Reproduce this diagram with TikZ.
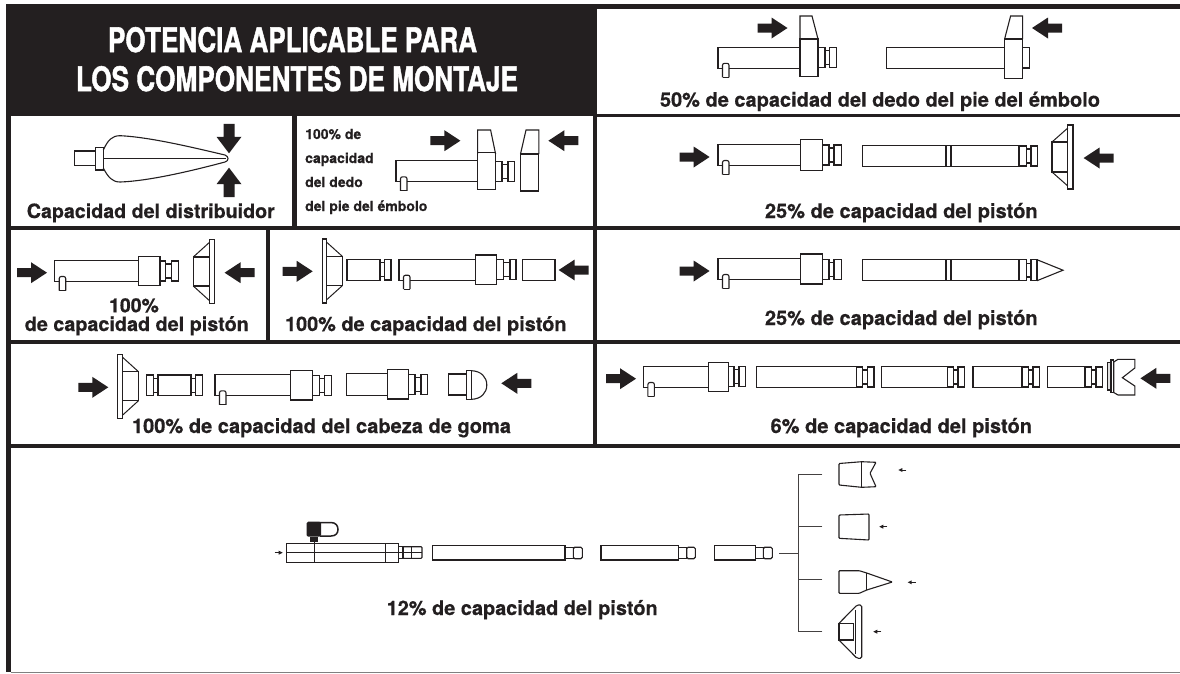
\documentclass[tikz,border=0pt]{standalone}
\usepackage{graphicx}
\usepackage{fontspec}
\setmainfont{TeX Gyre Heros}[BoldFeatures={FakeBold=0.4}]
\newfontfamily\titlefont{TeX Gyre Heros}[BoldFeatures={FakeBold=1.6}]
\definecolor{ink}{HTML}{231F20}
\tikzset{
  part/.style={draw=ink,line width=1.1pt,line join=miter},
  lab/.style={text=ink,font=\bfseries\fontsize{17.6}{20}\selectfont,anchor=base,inner sep=0pt},
  smalllab/.style={text=ink,font=\bfseries\fontsize{14}{16}\selectfont,anchor=base west,inner sep=0pt},
  titlelab/.style={text=white,font=\titlefont\bfseries\fontsize{34}{36}\selectfont,anchor=base,inner sep=0pt},
  band/.style={fill=ink,draw=none},
  branch/.style={draw=ink!85!white,line width=1pt},
}
\newcommand\ArrR[2]{\fill[ink] (#1,#2) -- (#1-16,#2-10.5) -- (#1-16,#2-4.5) -- (#1-30,#2-4.5) -- (#1-30,#2+4.5) -- (#1-16,#2+4.5) -- (#1-16,#2+10.5) -- cycle;}
\newcommand\ArrL[2]{\fill[ink] (#1,#2) -- (#1+16,#2-10.5) -- (#1+16,#2-4.5) -- (#1+30,#2-4.5) -- (#1+30,#2+4.5) -- (#1+16,#2+4.5) -- (#1+16,#2+10.5) -- cycle;}
\newcommand\ArrD[2]{\fill[ink] (#1,#2) -- (#1-12.5,#2-16.5) -- (#1-5.5,#2-16.5) -- (#1-5.5,#2-29.5) -- (#1+5.5,#2-29.5) -- (#1+5.5,#2-16.5) -- (#1+12.5,#2-16.5) -- cycle;}
\newcommand\ArrU[2]{\fill[ink] (#1,#2) -- (#1-12.5,#2+16.5) -- (#1-5.5,#2+16.5) -- (#1-5.5,#2+29.5) -- (#1+5.5,#2+29.5) -- (#1+5.5,#2+16.5) -- (#1+12.5,#2+16.5) -- cycle;}
\newcommand\TinyR[2]{\draw[ink,line width=.8pt] (#1-8,#2) -- (#1-3,#2); \fill[ink] (#1,#2) -- (#1-4,#2-2) -- (#1-4,#2+2) -- cycle;}
\newcommand\TinyL[2]{\draw[ink,line width=.8pt] (#1+8,#2) -- (#1+3,#2); \fill[ink] (#1,#2) -- (#1+4,#2-2) -- (#1+4,#2+2) -- cycle;}
% body left x, centre y, collar x1, collar x2, collar half height
\newcommand\Ram[5]{%
  \draw[part] (#3,#2-10.5) -- (#1,#2-10.5) -- (#1,#2+10.5) -- (#1+4.5,#2+10.5);
  \draw[part] (#1+11,#2+10.5) -- (#3,#2+10.5);
  \draw[part,rounded corners=2pt] (#1+4.5,#2+19.5) -- (#1+4.5,#2+5.5) -- (#1+11,#2+5.5) -- (#1+11,#2+19.5);
  \draw[part] (#1+4.5,#2+19.5) -- (#1+11,#2+19.5);
  \draw[part] (#3,#2-#5) rectangle (#4,#2+#5);}
% stud: x0 x1 x2 x3 y
\newcommand\Stud[5]{%
  \draw[part] (#1,#5-10) rectangle (#2,#5+10);
  \draw[part] (#2,#5-7) -- (#3,#5-7) (#2,#5+7) -- (#3,#5+7);
  \draw[part] (#3,#5-10) rectangle (#4,#5+10);}
\newcommand\Rod[3]{\draw[part] (#1,#3-10.5) rectangle (#2,#3+10.5);}
% plate: outer box x, box-plate x, plate outer x, y, box half, plate half
\newcommand\Plate[6]{%
  \draw[part] (#1,#4-#5) rectangle (#2,#4+#5);
  \draw[part] (#2,#4-#6) rectangle (#3,#4+#6);
  \draw[draw=ink,line width=1pt] (#1,#4-#5) -- (#2,#4-#6+3) (#1,#4+#5) -- (#2,#4+#6-3);}
\newcommand\Lab[5]{\node[lab] (#1) at (#2,#3) {\resizebox{#4pt}{!}{#5}};}
\begin{document}
\begin{tikzpicture}[x=1pt,y=-1pt]
\useasboundingbox (0,0) rectangle (1180,673);
\fill[white] (0,0) rectangle (1180,673);
% frame
\fill[band] (5.7,4) rectangle (597,116);
\fill[band] (597,4) rectangle (1180,9);
\fill[band] (5.7,4) rectangle (10.5,672);
\fill[band] (593,4) rectangle (597,447.5);
\fill[band] (597,113.5) rectangle (1180,117);
\fill[band] (5.7,226) rectangle (1180,230);
\fill[band] (5.7,340) rectangle (1180,343.5);
\fill[band] (5.7,443.5) rectangle (1180,447.5);
\fill[band] (292,116) rectangle (296.6,226);
\fill[band] (265.6,226) rectangle (270,340);
\draw[gray,line width=1pt] (10.5,672.3) -- (1180,672.3);
% title
\node[titlelab] (t1) at (292.5,52) {\resizebox{369pt}{25pt}{POTENCIA APLICABLE PARA}};
\node[titlelab] (t2) at (297,91) {\resizebox{442pt}{25pt}{LOS COMPONENTES DE MONTAJE}};

% ---- row 1 right
\ArrR{787.5}{28}
\Ram{718}{57.8}{800}{818}{18.8}
\draw[part] (800,39) -- (800,16) -- (812,16) -- (818,39);
\Stud{818}{825}{829.5}{836.5}{57.5}
\draw[part] (886.5,47.3) rectangle (1004.6,68.3);
\draw[part] (1004.6,39) rectangle (1022.6,78.3);
\draw[part] (1004.6,39) -- (1010.6,16) -- (1022.6,16) -- (1022.6,39);
\draw[part] (1022.6,47.3) rectangle (1029.5,68);
\ArrL{1032}{28}
\Lab{l50}{880}{106.7}{440}{50\% de capacidad del dedo del pie del émbolo}

% ---- row 2 left: distributor
\draw[part] (74.6,151) rectangle (95.7,165.7);
\draw[part] (95.7,147.7) rectangle (103.3,170);
\draw[part] (103.3,150) .. controls (108,140) and (112,135.7) .. (120,135.7) .. controls (150,137) and (195,148) .. (225,155) .. controls (229,156.5) and (229,161) .. (225,162) .. controls (195,170) and (150,181) .. (120,182) .. controls (112,182) and (108,177) .. (103.3,168);
\draw[part] (103.3,158.7) -- (226,158.7);
\ArrD{229}{153.3}
\ArrU{229}{167.7}
\Lab{ldist}{150.8}{218}{248}{Capacidad del distribuidor}

% ---- row 2 middle
\node[smalllab] (m1) at (305,139) {100\% de};
\node[smalllab] (m2) at (305,163) {capacidad};
\node[smalllab] (m3) at (305,187) {del dedo};
\node[smalllab] (m4) at (305,211) {del pie del émbolo};
\ArrR{460.4}{140.7}
\Ram{396}{171.3}{477.6}{495.6}{18.5}
\draw[part] (477.6,154) -- (477.6,130) -- (490.6,130) -- (495.6,154);
\Stud{495.6}{502}{508}{514.7}{171.3}
\draw[part] (520.5,154) rectangle (538.8,191);
\draw[part] (520.5,154) -- (526,130) -- (538.8,130) -- (538.8,154);
\ArrL{548.4}{140.7}

% ---- row 2 right
\ArrR{709.6}{157}
\Ram{718}{155}{800.7}{822.5}{15.5}
\Stud{822.5}{829}{834}{841.5}{155}
\Rod{862.8}{1019}{156.2}
\draw[part] (946,145.7) -- (946,166.7) (951,145.7) -- (951,166.7);
\Stud{1019}{1026.4}{1031}{1037.7}{156}
\Plate{1052}{1067.8}{1073}{157}{15}{32}
\ArrL{1083.6}{158}
\Lab{l25a}{901.3}{218}{272.7}{25\% de capacidad del pistón}

% ---- row 3 left
\ArrR{47}{272.7}
\Ram{54.7}{271}{138.5}{160}{14.5}
\Stud{160}{165.7}{171.5}{178.7}{271}
\Plate{193.3}{209.3}{214.3}{271.5}{14.5}{32}
\ArrL{224.6}{272.7}
\Lab{l100a}{134}{312.3}{49.8}{100\%}
\Lab{l100b}{136.8}{331}{224}{de capacidad del pistón}

% ---- row 3 middle
\ArrR{312.7}{271.3}
\Plate{342.5}{326.4}{322.2}{271}{14.5}{32}
\Rod{347}{380}{269.7}
\draw[part] (380,262.7) -- (384.6,262.7) (380,276.7) -- (384.6,276.7);
\draw[part] (384.6,259.5) rectangle (391,280);
\Ram{399}{269.7}{475.7}{496.7}{14.7}
\Stud{496.7}{503.2}{510}{516}{269.7}
\Rod{522.4}{555}{269.7}
\ArrL{558.7}{270}
\Lab{l100c}{425.8}{331}{281.4}{100\% de capacidad del pistón}

% ---- row 3 right
\ArrR{709.6}{271}
\Ram{718}{269}{800.7}{822.5}{15}
\Stud{822.5}{829}{834}{841.5}{269.5}
\Rod{862.8}{1019}{270.2}
\draw[part] (946,259.7) -- (946,280.7) (951,259.7) -- (951,280.7);
\draw[part] (1019,259.7) rectangle (1026.4,280.7);
\draw[part] (1026.4,263.5) -- (1031,263.5) (1026.4,277) -- (1031,277);
\draw[part] (1031,259.7) rectangle (1037,280.7);
\draw[part] (1037,259.7) -- (1063,270.2) -- (1037,280.7);
\Lab{l25b}{901.3}{325}{272.7}{25\% de capacidad del pistón}

% ---- row 4 left
\ArrR{108.3}{387.3}
\Plate{138.5}{122.5}{117.9}{386.2}{14.5}{32}
\draw[part] (146.7,375) rectangle (153.3,395.7);
\draw[part] (153.3,378.3) -- (158,378.3) (153.3,392.3) -- (158,392.3);
\draw[part] (158,375) rectangle (191,395.7);
\draw[part] (191,378.3) -- (195.7,378.3) (191,392.3) -- (195.7,392.3);
\draw[part] (195.7,375) rectangle (202.3,395.7);
\Ram{215}{385.3}{290.8}{312.7}{14.7}
\Stud{312.7}{319.6}{324.5}{331.8}{385.3}
\draw[part] (346.3,373.5) rectangle (387.3,395.5);
\draw[part] (387.3,369.3) rectangle (408.7,399);
\Stud{408.7}{415}{421}{427.9}{384.5}
\draw[part] (448.5,374) rectangle (466.9,395);
\draw[part] (466.9,370.7) rectangle (471.5,399.3);
\draw[part] (471.5,370.7) .. controls (481,371) and (486.8,377) .. (486.8,385) .. controls (486.8,393) and (481,399) .. (471.5,399.3);
\ArrL{501.3}{383.3}
\Lab{l100d}{321.5}{433}{379}{100\% de capacidad del cabeza de goma}

% ---- row 4 right
\ArrR{636}{378.7}
\Ram{643.4}{377}{708.5}{728.5}{14.3}
\Stud{728.5}{734}{739}{745.8}{376.7}
\Rod{756.7}{856.4}{377}
\Stud{856.4}{862.8}{867.6}{874}{377}
\Rod{881.6}{947.4}{377}
\Stud{947.4}{953.4}{958}{964.7}{377}
\Rod{973}{1022}{377}
\Stud{1022}{1028.7}{1033}{1039.6}{377}
\Rod{1047.9}{1085}{377}
\Stud{1085}{1091.5}{1096}{1102.4}{377}
\draw[part,fill=black!12] (1107.3,362.5) rectangle (1111,390);
\draw[part] (1111,360) rectangle (1113.7,392.5);
\draw[part] (1113.7,362) -- (1118,359.3) -- (1134.8,359.3) -- (1134.8,368) -- (1122.4,377.7) -- (1134.8,386) -- (1134.8,395) -- (1118,395) -- (1113.7,392.5) -- cycle;
\ArrL{1140.4}{378.3}
\Lab{l6}{901.3}{433}{261.4}{6\% de capacidad del pistón}

% ---- row 5
\TinyR{282.7}{552.7}
\draw[part] (286.7,543.3) rectangle (398.3,562.3);
\draw[ink,line width=.6pt] (286.7,552.7) -- (422,552.7);
\draw[ink,line width=.6pt] (314,540) -- (314,562.3);
\draw[ink,line width=.9pt] (385.7,543.3) -- (385.7,562.3);
\draw[part] (398.3,546.7) rectangle (403,558.3);
\draw[part,rounded corners=1pt] (403,546.7) rectangle (422,558.3);
\draw[ink,line width=1pt] (411.7,546.7) -- (411.7,558.3);
\fill[ink,rounded corners=1.5pt] (306.7,521.7) rectangle (321,536.7);
\fill[ink] (309.5,536.7) rectangle (317.7,542);
\draw[ink,line width=1.5pt] (320,522.5) -- (331,522.5) .. controls (336,522.5) and (338,526) .. (338,529.5) .. controls (338,533) and (336,536) .. (331,536) -- (320,536);
\draw[part] (432.3,545.7) rectangle (565,560);
\draw[part] (565,547.2) rectangle (573.3,558.7);
\draw[part,rounded corners=1.5pt] (573.3,547.2) rectangle (582.3,558.7);
\draw[part] (601,545.7) rectangle (678.3,560);
\draw[part] (678.3,547.2) rectangle (686.7,558.7);
\draw[part,rounded corners=1.5pt] (686.7,547.2) rectangle (695.3,558.7);
\draw[part] (714.3,545.7) rectangle (755.3,560);
\draw[part] (755.3,547.2) rectangle (763.3,558.7);
\draw[part,rounded corners=1.5pt] (763.3,547.2) rectangle (772.3,558.7);
% tree connector
\coordinate (src) at (779,553.3);
\coordinate (trunk) at (798.3,553.3);
\coordinate (b1) at (822.3,474.3);
\coordinate (b2) at (822.3,526.7);
\coordinate (b3) at (822.3,579.3);
\coordinate (b4) at (822.3,631.7);
\draw[branch] (src) -- (trunk);
\draw[branch] (b1) -| (trunk);
\draw[branch] (b4) -| (trunk);
\draw[branch] (b2) -- (b2 -| trunk);
\draw[branch] (b3) -- (b3 -| trunk);
% tool 1
\draw[part,rounded corners=.8pt] (861.7,461.7) -- (839,463.5) -- (839,485) -- (861.7,487.3) -- (876,486.7) -- (870,473.3) -- (876,462.3) -- cycle;
\draw[part] (861.7,461.7) -- (861.7,487.3);
\TinyL{898.3}{470}
% tool 2
\draw[part,rounded corners=.8pt] (839,515) -- (869,514) -- (869,540) -- (839,538.3) -- cycle;
\TinyL{879.3}{526.7}
% tool 3
\draw[part,rounded corners=.8pt] (859.3,570.7) -- (839,570.7) -- (839,593.3) -- (859.3,593.3) -- (866.7,590) -- (892.3,582) -- (866.7,573) -- cycle;
\draw[part] (866.7,573) -- (866.7,590);
\TinyL{907.7}{582.3}
% tool 4
\draw[part] (839,623.3) rectangle (853.3,640);
\draw[part,rounded corners=1.5pt] (839,623.3) -- (857,605) -- (861.7,605) -- (861.7,658.3) -- (857,658.3) -- (839,640);
\draw[ink,line width=.7pt] (855,610) -- (855,654);
\TinyL{873.3}{631.7}
\Lab{l12}{522.2}{615}{271}{12\% de capacidad del pistón}
\end{tikzpicture}
\end{document}
